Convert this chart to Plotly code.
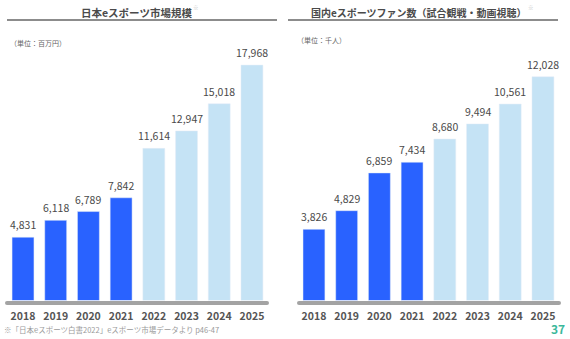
import plotly.graph_objects as go

W, H = 570, 339
years = ["2018", "2019", "2020", "2021", "2022", "2023", "2024", "2025"]
market = [4831, 6118, 6789, 7842, 11614, 12947, 15018, 17968]
fans = [3826, 4829, 6859, 7434, 8680, 9494, 10561, 12028]
actual_flags = [True, True, True, True, False, False, False, False]

DARK = "#2962ff"
LIGHT = "#c5e3f5"
FONT = "Noto Sans CJK JP"
TXT = "#4a4a4a"

def px(x):
    return x / W

def py(y):
    return 1 - y / H

colors = [DARK if a else LIGHT for a in actual_flags]

fig = go.Figure()
fig.add_trace(go.Bar(x=years, y=market, marker_color=colors, width=0.67,
                     xaxis="x", yaxis="y", hoverinfo="skip"))
fig.add_trace(go.Bar(x=years, y=fans, marker_color=colors, width=0.67,
                     xaxis="x2", yaxis="y2", hoverinfo="skip"))

ybot, ytop = 300.5, 40
tickfont = dict(family=FONT, size=10.5, color="#555555", weight="bold")
fig.update_layout(
    width=W, height=H, margin=dict(l=0, r=0, t=0, b=0),
    paper_bgcolor="white", plot_bgcolor="white", showlegend=False,
)
fig.update_layout(
    xaxis=dict(type="category", categoryorder="array", categoryarray=years,
               range=[-0.5, 7.5], autorange=False,
               domain=[px(6.65), px(268.3)], anchor="y", ticks="outside",
               ticklen=6, tickcolor="rgba(0,0,0,0)", tickfont=tickfont,
               showgrid=False, zeroline=False, showline=False),
    xaxis2=dict(type="category", categoryorder="array", categoryarray=years,
                range=[-0.5, 7.5], autorange=False,
                domain=[px(297.6), px(559.3)], anchor="y2", ticks="outside",
                ticklen=6, tickcolor="rgba(0,0,0,0)", tickfont=tickfont,
                showgrid=False, zeroline=False, showline=False),
    yaxis=dict(domain=[py(ybot), py(ytop)], range=[0, (ybot - ytop) / 0.0131],
               autorange=False, anchor="x",
               showticklabels=False, showgrid=False, zeroline=False, showline=False),
    yaxis2=dict(domain=[py(ybot), py(ytop)], range=[0, (ybot - ytop) / 0.0186],
                autorange=False, anchor="x2",
                showticklabels=False, showgrid=False, zeroline=False, showline=False),
)

ann = []
for xr, yr, vals in (("x", "y", market), ("x2", "y2", fans)):
    for i, v in enumerate(vals):
        # category index i on the category axis
        ann.append(dict(x=i, y=v, xref=xr, yref=yr, text=f"{v:,}", showarrow=False,
                        xanchor="center", yanchor="bottom", yshift=3,
                        font=dict(family=FONT, size=10.5, color=TXT)))

# titles
ann.append(dict(x=px(136), y=py(12), xref="paper", yref="paper", showarrow=False,
                xanchor="center", yanchor="middle", text="日本eスポーツ市場規模",
                font=dict(family=FONT, size=10.5, color=TXT, weight="bold")))
ann.append(dict(x=px(419), y=py(12), xref="paper", yref="paper", showarrow=False,
                xanchor="center", yanchor="middle",
                text="国内eスポーツファン数（試合観戦・動画視聴）",
                font=dict(family=FONT, size=10, color=TXT, weight="bold")))
for xm in (196, 531):
    ann.append(dict(x=px(xm), y=py(7.5), xref="paper", yref="paper", showarrow=False,
                    xanchor="center", yanchor="middle", text="※",
                    font=dict(family=FONT, size=5.5, color="#c4c4c4")))
ann.append(dict(x=px(8), y=py(43), xref="paper", yref="paper", showarrow=False,
                xanchor="left", yanchor="middle", text="（単位：百万円）",
                font=dict(family=FONT, size=7, color="#666666")))
ann.append(dict(x=px(295), y=py(40), xref="paper", yref="paper", showarrow=False,
                xanchor="left", yanchor="middle", text="（単位：千人）",
                font=dict(family=FONT, size=7, color="#666666")))
ann.append(dict(x=px(2), y=py(329), xref="paper", yref="paper", showarrow=False,
                xanchor="left", yanchor="middle",
                text="※「日本eスポーツ白書2022」eスポーツ市場データより p46-47",
                font=dict(family=FONT, size=7.5, color="#9a9a9a")))
ann.append(dict(x=px(567), y=py(328.5), xref="paper", yref="paper", showarrow=False,
                xanchor="right", yanchor="middle", text="37",
                font=dict(family=FONT, size=12, color="#3bb89b", weight="bold")))
fig.update_layout(annotations=ann)

shapes = []
for x0, x1 in ((7, 277), (288, 558)):
    shapes.append(dict(type="line", xref="paper", yref="paper", x0=px(x0), x1=px(x1),
                       y0=py(20), y1=py(20), line=dict(color="#8c8c8c", width=1.8)))
for x0, x1 in ((7, 267), (299, 559)):
    shapes.append(dict(type="line", xref="paper", yref="paper", x0=px(x0), x1=px(x1),
                       y0=py(303), y1=py(303), line=dict(color="#a3a3a3", width=4)))
    for xe in (x0, x1):
        shapes.append(dict(type="circle", xref="paper", yref="paper",
                           x0=px(xe - 2), x1=px(xe + 2), y0=py(305), y1=py(301),
                           fillcolor="#a3a3a3", line=dict(width=0)))
fig.update_layout(shapes=shapes)

fig.write_html("out.html")
